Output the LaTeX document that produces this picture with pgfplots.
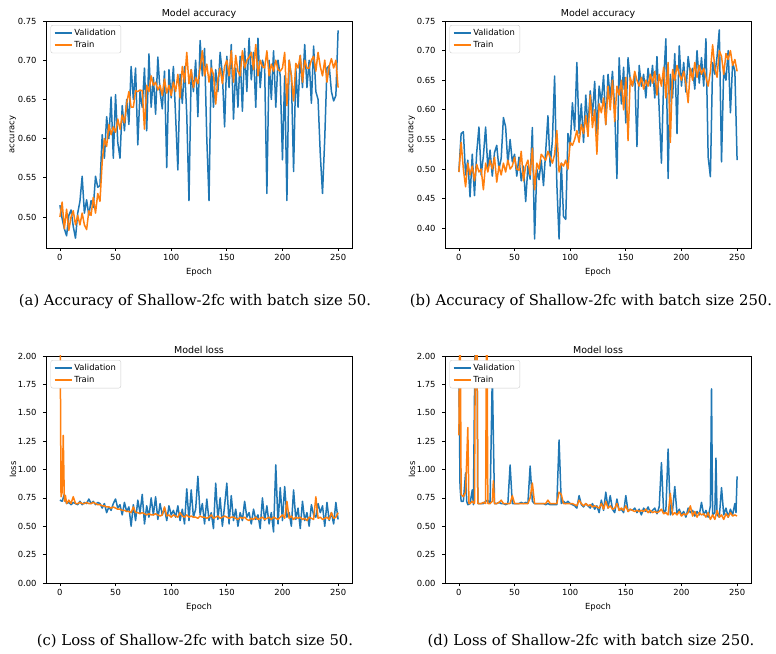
\documentclass[border=0pt]{standalone}
\usepackage{fontspec}
\setmainfont{DejaVu Serif}
\newfontfamily\mpl{DejaVu Sans}
\usepackage{pgfplots}
\pgfplotsset{compat=1.18}
\definecolor{tabblue}{HTML}{1F77B4}
\definecolor{taborange}{HTML}{FF7F0E}
\definecolor{legedge}{rgb}{0.8,0.8,0.8}
\pgfplotsset{mplstyle/.style={
  scale only axis, width=306pt, height=227pt,
  xmin=-12.5, xmax=262.5,
  xtick={0,50,100,150,200,250},
  axis line style={line width=0.7pt},
  tick style={line width=0.7pt, black},
  tick align=outside, major tick length=3pt,
  tick pos=left,
  scaled ticks=false,
  tick label style={font=\mpl\fontsize{8.4}{10}\selectfont},
  y tick label style={xshift=-3pt},
  label style={font=\mpl\fontsize{8.4}{10}\selectfont},
  ylabel style={at={(-0.108,0.5)}, anchor=center},
  title style={font=\mpl\fontsize{9.5}{11}\selectfont, yshift=-7pt},
  /pgf/number format/assume math mode=true,
  y tick label style={/pgf/number format/fixed, /pgf/number format/fixed zerofill, /pgf/number format/precision=2},
  xlabel={Epoch},
  legend style={at={(0.015,0.982)}, anchor=north west, draw=legedge, rounded corners=2pt, fill=white, font=\mpl\fontsize{8.4}{10}\selectfont},
  legend cell align=left,
}}
\tikzset{vline/.style={tabblue, line width=1.5pt, line join=round}, tline/.style={taborange, line width=1.5pt, line join=round}}
\begin{document}
\begin{tikzpicture}
\path[use as bounding box] (0,0) rectangle (776pt,653pt);
% (a)
\begin{axis}[mplstyle, at={(46pt,405pt)}, anchor=south west,
  ymin=0.4605, ymax=0.750, ytick={0.50,0.55,0.60,0.65,0.70,0.75},
  ylabel={accuracy}, title={Model accuracy}]
\addplot[vline] coordinates {(0,0.515)(2,0.498)(4,0.485)(6,0.476)(8,0.502)(10,0.509)(12,0.488)(14,0.473)(16,0.505)(18,0.520)(20,0.552)(22,0.505)(24,0.522)(26,0.502)(28,0.521)(30,0.512)(32,0.552)(34,0.538)(36,0.540)(38,0.605)(40,0.575)(42,0.628)(44,0.600)(46,0.653)(48,0.575)(50,0.656)(52,0.595)(54,0.575)(56,0.642)(58,0.610)(60,0.650)(62,0.618)(64,0.692)(66,0.650)(68,0.690)(70,0.592)(72,0.660)(74,0.640)(76,0.690)(78,0.610)(80,0.708)(82,0.640)(84,0.678)(86,0.631)(88,0.704)(90,0.660)(92,0.638)(94,0.686)(96,0.563)(98,0.688)(100,0.652)(102,0.692)(104,0.628)(106,0.560)(108,0.682)(110,0.645)(112,0.692)(114,0.630)(116,0.521)(118,0.688)(120,0.660)(122,0.700)(124,0.628)(126,0.725)(128,0.680)(130,0.715)(132,0.600)(134,0.521)(136,0.700)(138,0.640)(140,0.688)(142,0.660)(144,0.710)(146,0.682)(148,0.615)(150,0.705)(152,0.665)(154,0.720)(156,0.625)(158,0.690)(160,0.640)(162,0.705)(164,0.635)(166,0.715)(168,0.660)(170,0.728)(172,0.675)(174,0.710)(176,0.640)(178,0.728)(180,0.665)(182,0.700)(184,0.690)(186,0.530)(188,0.700)(190,0.650)(192,0.712)(194,0.640)(196,0.700)(198,0.680)(200,0.573)(202,0.680)(204,0.521)(206,0.700)(208,0.680)(210,0.558)(212,0.690)(214,0.640)(216,0.706)(218,0.665)(220,0.720)(222,0.665)(224,0.700)(226,0.645)(228,0.718)(230,0.660)(232,0.650)(234,0.580)(236,0.530)(238,0.600)(240,0.690)(242,0.693)(244,0.660)(246,0.648)(248,0.655)(250,0.738)};
\addplot[tline] coordinates {(0,0.500)(2,0.519)(4,0.485)(6,0.510)(8,0.483)(10,0.500)(12,0.508)(14,0.490)(16,0.502)(18,0.490)(20,0.505)(22,0.490)(24,0.484)(26,0.508)(28,0.502)(30,0.525)(32,0.505)(34,0.530)(36,0.520)(38,0.570)(40,0.600)(42,0.590)(44,0.618)(46,0.605)(48,0.615)(50,0.608)(52,0.625)(54,0.612)(56,0.630)(58,0.620)(60,0.645)(62,0.660)(64,0.640)(66,0.640)(68,0.661)(70,0.660)(72,0.662)(74,0.661)(76,0.612)(78,0.668)(80,0.660)(82,0.680)(84,0.668)(86,0.672)(88,0.662)(90,0.668)(92,0.655)(94,0.676)(96,0.658)(98,0.668)(100,0.655)(102,0.672)(104,0.660)(106,0.682)(108,0.652)(110,0.692)(112,0.672)(114,0.710)(116,0.670)(118,0.688)(120,0.665)(122,0.678)(124,0.670)(126,0.690)(128,0.712)(130,0.680)(132,0.695)(134,0.672)(136,0.690)(138,0.682)(140,0.644)(142,0.676)(144,0.690)(146,0.670)(148,0.692)(150,0.700)(152,0.680)(154,0.712)(156,0.672)(158,0.706)(160,0.686)(162,0.680)(164,0.712)(166,0.690)(168,0.700)(170,0.704)(172,0.710)(174,0.688)(176,0.720)(178,0.680)(180,0.700)(182,0.692)(184,0.690)(186,0.712)(188,0.680)(190,0.695)(192,0.686)(194,0.700)(196,0.688)(198,0.686)(200,0.690)(202,0.710)(204,0.642)(206,0.700)(208,0.680)(210,0.648)(212,0.696)(214,0.690)(216,0.706)(218,0.672)(220,0.700)(222,0.690)(224,0.690)(226,0.700)(228,0.705)(230,0.686)(232,0.710)(234,0.692)(236,0.680)(238,0.700)(240,0.672)(242,0.692)(244,0.702)(246,0.690)(248,0.700)(250,0.665)};
\legend{Validation, Train}
\end{axis}
% (b)
\begin{axis}[mplstyle, at={(445pt,405pt)}, anchor=south west,
  ymin=0.3667, ymax=0.750, ytick={0.40,0.45,0.50,0.55,0.60,0.65,0.70,0.75},
  ylabel={accuracy}, title={Model accuracy}]
\addplot[vline] coordinates {(0,0.495)(2,0.560)(4,0.563)(6,0.490)(8,0.515)(10,0.453)(12,0.525)(14,0.455)(16,0.528)(18,0.571)(20,0.490)(22,0.522)(24,0.571)(26,0.500)(28,0.532)(30,0.488)(32,0.528)(34,0.540)(36,0.500)(38,0.518)(40,0.587)(42,0.571)(44,0.508)(46,0.550)(48,0.512)(50,0.525)(52,0.488)(54,0.520)(56,0.480)(58,0.505)(60,0.445)(62,0.505)(64,0.483)(66,0.570)(68,0.382)(70,0.500)(72,0.482)(74,0.515)(76,0.472)(78,0.530)(80,0.590)(82,0.505)(84,0.548)(86,0.657)(88,0.475)(90,0.382)(92,0.510)(94,0.420)(96,0.415)(98,0.560)(100,0.540)(102,0.612)(104,0.565)(106,0.680)(108,0.560)(110,0.610)(112,0.545)(114,0.625)(116,0.570)(118,0.632)(120,0.590)(122,0.648)(124,0.560)(126,0.640)(128,0.612)(130,0.658)(132,0.575)(134,0.660)(136,0.620)(138,0.665)(140,0.600)(142,0.484)(144,0.688)(146,0.610)(148,0.672)(150,0.578)(152,0.688)(154,0.650)(156,0.640)(158,0.660)(160,0.538)(162,0.675)(164,0.640)(166,0.660)(168,0.620)(170,0.670)(172,0.640)(174,0.675)(176,0.620)(178,0.690)(180,0.600)(182,0.510)(184,0.650)(186,0.720)(188,0.484)(190,0.660)(192,0.620)(194,0.695)(196,0.560)(198,0.708)(200,0.640)(202,0.680)(204,0.630)(206,0.690)(208,0.660)(210,0.670)(212,0.635)(214,0.700)(216,0.645)(218,0.688)(220,0.640)(222,0.720)(224,0.520)(226,0.487)(228,0.680)(230,0.660)(232,0.690)(234,0.735)(236,0.512)(238,0.670)(240,0.650)(242,0.700)(244,0.595)(246,0.680)(248,0.665)(250,0.515)};
\addplot[tline] coordinates {(0,0.495)(2,0.545)(4,0.500)(6,0.470)(8,0.510)(10,0.490)(12,0.505)(14,0.480)(16,0.508)(18,0.495)(20,0.500)(22,0.465)(24,0.510)(26,0.495)(28,0.515)(30,0.500)(32,0.520)(34,0.478)(36,0.505)(38,0.490)(40,0.510)(42,0.495)(44,0.515)(46,0.500)(48,0.505)(50,0.520)(52,0.500)(54,0.498)(56,0.530)(58,0.480)(60,0.505)(62,0.515)(64,0.490)(66,0.535)(68,0.465)(70,0.510)(72,0.500)(74,0.525)(76,0.520)(78,0.515)(80,0.530)(82,0.520)(84,0.510)(86,0.525)(88,0.565)(90,0.495)(92,0.510)(94,0.505)(96,0.515)(98,0.500)(100,0.545)(102,0.540)(104,0.550)(106,0.565)(108,0.545)(110,0.575)(112,0.560)(114,0.590)(116,0.555)(118,0.625)(120,0.570)(122,0.600)(124,0.525)(126,0.610)(128,0.595)(130,0.620)(132,0.575)(134,0.640)(136,0.600)(138,0.650)(140,0.580)(142,0.640)(144,0.625)(146,0.650)(148,0.600)(150,0.655)(152,0.548)(154,0.655)(156,0.640)(158,0.665)(160,0.650)(162,0.640)(164,0.655)(166,0.635)(168,0.650)(170,0.640)(172,0.660)(174,0.645)(176,0.665)(178,0.625)(180,0.660)(182,0.640)(184,0.672)(186,0.620)(188,0.680)(190,0.545)(192,0.668)(194,0.650)(196,0.675)(198,0.660)(200,0.650)(202,0.665)(204,0.645)(206,0.612)(208,0.670)(210,0.650)(212,0.680)(214,0.655)(216,0.675)(218,0.660)(220,0.670)(222,0.655)(224,0.640)(226,0.665)(228,0.710)(230,0.670)(232,0.655)(234,0.700)(236,0.690)(238,0.660)(240,0.695)(242,0.685)(244,0.700)(246,0.675)(248,0.685)(250,0.665)};
\legend{Validation, Train}
\end{axis}
% (c)
\begin{axis}[mplstyle, at={(46pt,70pt)}, anchor=south west,
  ymin=0, ymax=2, ytick={0,0.25,0.5,0.75,1,1.25,1.5,1.75,2},
  ylabel={loss}, title={Model loss}]
\addplot[vline] coordinates {(0,0.73)(2,0.72)(4,0.78)(6,0.70)(8,0.71)(10,0.69)(12,0.71)(14,0.70)(16,0.69)(18,0.72)(20,0.69)(22,0.71)(24,0.70)(26,0.74)(28,0.70)(30,0.72)(32,0.69)(34,0.71)(36,0.70)(38,0.66)(40,0.70)(42,0.62)(44,0.67)(46,0.64)(48,0.70)(50,0.74)(52,0.66)(54,0.69)(56,0.60)(58,0.71)(60,0.63)(62,0.67)(64,0.50)(66,0.69)(68,0.55)(70,0.73)(72,0.62)(74,0.78)(76,0.52)(78,0.68)(80,0.58)(82,0.75)(84,0.60)(86,0.76)(88,0.56)(90,0.70)(92,0.60)(94,0.66)(96,0.55)(98,0.68)(100,0.60)(102,0.64)(104,0.58)(106,0.68)(108,0.55)(110,0.65)(112,0.52)(114,0.83)(116,0.55)(118,0.82)(120,0.58)(122,0.65)(124,0.94)(126,0.60)(128,0.70)(130,0.52)(132,0.74)(134,0.55)(136,0.62)(138,0.48)(140,0.88)(142,0.56)(144,0.75)(146,0.50)(148,0.68)(150,0.88)(152,0.52)(154,0.77)(156,0.55)(158,0.65)(160,0.50)(162,0.62)(164,0.55)(166,0.72)(168,0.58)(170,0.62)(172,0.52)(174,0.65)(176,0.56)(178,0.60)(180,0.48)(182,0.75)(184,0.55)(186,0.68)(188,0.52)(190,0.62)(192,0.45)(194,1.04)(196,0.52)(198,0.84)(200,0.55)(202,0.85)(204,0.58)(206,0.62)(208,0.50)(210,0.82)(212,0.56)(214,0.66)(216,0.48)(218,0.72)(220,0.55)(222,0.62)(224,0.50)(226,0.69)(228,0.60)(230,0.58)(232,0.70)(234,0.62)(236,0.68)(238,0.50)(240,0.71)(242,0.55)(244,0.62)(246,0.52)(248,0.71)(250,0.56)};
\addplot[tline] coordinates {(0,2.60)(1,0.76)(2,0.80)(3,1.30)(4,0.72)(5,0.77)(6,0.70)(8,0.73)(10,0.70)(12,0.76)(14,0.70)(16,0.70)(18,0.71)(20,0.70)(22,0.70)(24,0.71)(26,0.70)(28,0.70)(30,0.71)(32,0.70)(34,0.69)(36,0.69)(38,0.68)(40,0.68)(42,0.67)(44,0.67)(46,0.66)(48,0.67)(50,0.66)(52,0.65)(54,0.65)(56,0.64)(58,0.64)(60,0.63)(62,0.63)(64,0.62)(66,0.67)(68,0.62)(70,0.62)(72,0.61)(74,0.62)(76,0.61)(78,0.60)(80,0.61)(82,0.60)(84,0.60)(86,0.61)(88,0.60)(90,0.59)(92,0.60)(94,0.67)(96,0.59)(98,0.60)(100,0.58)(102,0.60)(104,0.59)(106,0.58)(108,0.62)(110,0.59)(112,0.58)(114,0.60)(116,0.58)(118,0.59)(120,0.58)(122,0.58)(124,0.57)(126,0.59)(128,0.58)(130,0.58)(132,0.57)(134,0.58)(136,0.60)(138,0.57)(140,0.58)(142,0.59)(144,0.57)(146,0.58)(148,0.59)(150,0.58)(152,0.57)(154,0.58)(156,0.58)(158,0.57)(160,0.56)(162,0.58)(164,0.57)(166,0.58)(168,0.56)(170,0.55)(172,0.57)(174,0.56)(176,0.58)(178,0.56)(180,0.57)(182,0.58)(184,0.56)(186,0.57)(188,0.58)(190,0.56)(192,0.58)(194,0.57)(196,0.56)(198,0.58)(200,0.60)(202,0.57)(204,0.72)(206,0.57)(208,0.59)(210,0.56)(212,0.58)(214,0.57)(216,0.58)(218,0.56)(220,0.57)(222,0.55)(224,0.58)(226,0.57)(228,0.56)(230,0.76)(232,0.57)(234,0.58)(236,0.56)(238,0.57)(240,0.58)(242,0.56)(244,0.62)(246,0.57)(248,0.58)(250,0.62)};
\legend{Validation, Train}
\end{axis}
% (d)
\begin{axis}[mplstyle, at={(445pt,70pt)}, anchor=south west,
  ymin=0, ymax=2, ytick={0,0.25,0.5,0.75,1,1.25,1.5,1.75,2},
  ylabel={loss}, title={Model loss}]
\addplot[vline] coordinates {(0,1.85)(1,0.85)(2,0.72)(4,0.72)(6,0.97)(7,0.72)(8,0.69)(10,0.70)(12,0.82)(13,0.69)(15,2.60)(16,2.60)(17,0.70)(20,0.70)(22,0.70)(24,0.72)(26,0.73)(28,0.70)(30,1.84)(32,0.70)(34,0.70)(36,0.71)(38,0.70)(40,0.70)(42,0.69)(44,0.70)(46,1.04)(48,0.70)(50,0.70)(52,0.70)(54,0.70)(56,0.71)(58,0.70)(60,0.71)(62,0.70)(64,1.03)(66,0.72)(68,0.70)(70,0.70)(72,0.70)(74,0.70)(76,0.70)(78,0.69)(80,0.70)(82,0.69)(84,0.69)(86,0.69)(88,0.69)(90,1.26)(92,0.70)(94,0.72)(96,0.70)(98,0.72)(100,0.70)(102,0.69)(104,0.68)(106,0.66)(108,0.77)(110,0.69)(112,0.67)(114,0.70)(116,0.68)(118,0.66)(120,0.70)(122,0.65)(124,0.68)(126,0.62)(128,0.73)(130,0.64)(132,0.80)(134,0.66)(136,0.77)(138,0.65)(140,0.62)(142,0.74)(144,0.64)(146,0.65)(148,0.62)(150,0.77)(152,0.63)(154,0.65)(156,0.64)(158,0.66)(160,0.62)(162,0.65)(164,0.60)(166,0.66)(168,0.63)(170,0.67)(172,0.62)(174,0.64)(176,0.66)(178,0.61)(180,0.67)(182,1.06)(184,0.62)(186,0.64)(188,1.18)(190,0.60)(192,0.64)(194,0.85)(196,0.61)(198,0.65)(200,0.60)(202,0.63)(204,0.58)(206,0.66)(208,0.62)(210,0.64)(212,0.59)(214,0.63)(216,0.60)(218,0.71)(220,0.60)(222,0.64)(224,0.58)(226,0.68)(227,1.71)(228,0.60)(230,0.62)(231,1.10)(232,0.60)(234,0.58)(236,0.84)(238,0.60)(240,0.66)(242,0.58)(244,0.65)(246,0.60)(248,0.70)(249,0.62)(250,0.94)};
\addplot[tline] coordinates {(0,1.30)(1,2.60)(2,0.78)(4,0.76)(6,0.80)(8,1.37)(9,0.70)(10,0.70)(12,0.72)(14,0.70)(15,2.60)(16,2.60)(17,0.70)(20,0.70)(22,0.71)(24,0.70)(25,2.60)(26,0.70)(28,0.70)(30,0.72)(31,0.90)(32,0.70)(34,0.70)(36,0.71)(38,0.73)(40,0.70)(42,0.70)(44,0.70)(46,0.70)(48,0.77)(50,0.70)(52,0.70)(54,0.70)(56,0.70)(58,0.70)(60,0.70)(62,0.70)(64,0.75)(66,0.88)(68,0.70)(70,0.70)(72,0.70)(74,0.70)(76,0.70)(78,0.70)(80,0.73)(82,0.70)(84,0.70)(86,0.70)(88,0.70)(90,0.80)(92,0.78)(94,0.70)(96,0.70)(98,0.70)(100,0.70)(102,0.70)(104,0.69)(106,0.68)(108,0.73)(110,0.70)(112,0.68)(114,0.70)(116,0.68)(118,0.69)(120,0.67)(122,0.68)(124,0.67)(126,0.66)(128,0.70)(130,0.65)(132,0.72)(134,0.66)(136,0.68)(138,0.65)(140,0.66)(142,0.70)(144,0.64)(146,0.66)(148,0.64)(150,0.68)(152,0.63)(154,0.65)(156,0.64)(158,0.63)(160,0.64)(162,0.63)(164,0.64)(166,0.63)(168,0.65)(170,0.62)(172,0.64)(174,0.62)(176,0.63)(178,0.62)(180,0.63)(182,0.65)(184,0.61)(186,0.62)(188,0.60)(190,0.79)(192,0.60)(194,0.62)(196,0.60)(198,0.63)(200,0.59)(202,0.61)(204,0.60)(206,0.62)(208,0.68)(210,0.59)(212,0.63)(214,0.58)(216,0.62)(218,0.60)(220,0.61)(222,0.58)(224,0.62)(226,0.56)(228,0.60)(230,0.56)(232,0.64)(234,0.58)(236,0.60)(238,0.56)(240,0.61)(242,0.58)(244,0.62)(246,0.59)(248,0.60)(250,0.59)};
\legend{Validation, Train}
\end{axis}
\node[font=\fontsize{14.8}{17}\selectfont] at (195pt,351pt) {(a) Accuracy of Shallow-2fc with batch size 50.};
\node[font=\fontsize{14.8}{17}\selectfont] at (591pt,351pt) {(b) Accuracy of Shallow-2fc with batch size 250.};
\node[font=\fontsize{14.8}{17}\selectfont] at (195pt,12pt) {(c) Loss of Shallow-2fc with batch size 50.};
\node[font=\fontsize{14.8}{17}\selectfont] at (591pt,12pt) {(d) Loss of Shallow-2fc with batch size 250.};
\end{tikzpicture}
\end{document}
